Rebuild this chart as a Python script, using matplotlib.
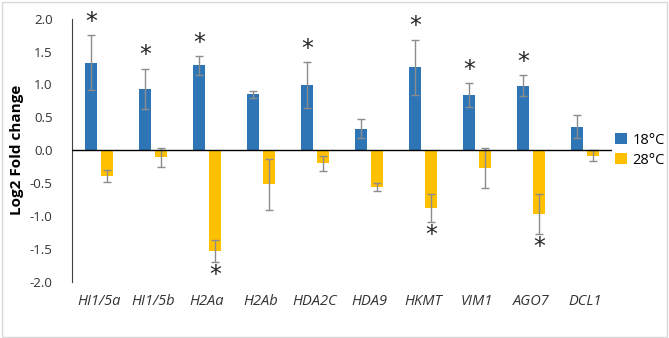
import matplotlib
matplotlib.use("Agg")
import matplotlib.pyplot as plt
import numpy as np

genes = ["HI1/5a", "HI1/5b", "H2Aa", "H2Ab", "HDA2C", "HDA9", "HKMT", "VIM1", "AGO7", "DCL1"]
val_18 = [1.33, 0.93, 1.29, 0.85, 0.99, 0.33, 1.26, 0.84, 0.98, 0.36]
err_18 = [0.42, 0.31, 0.14, 0.05, 0.35, 0.14, 0.42, 0.18, 0.16, 0.18]
val_28 = [-0.39, -0.11, -1.53, -0.52, -0.20, -0.56, -0.88, -0.27, -0.97, -0.08]
err_28 = [0.09, 0.15, 0.17, 0.39, 0.12, 0.06, 0.21, 0.30, 0.30, 0.08]
sig_18 = [True, True, True, False, True, False, True, True, True, False]
sig_28 = [False, False, True, False, False, False, True, False, True, False]

plt.rcParams['font.family'] = ['Open Sans', 'DejaVu Sans']

fig = plt.figure(figsize=(6.69, 3.38), dpi=100)
ax = fig.add_axes([0.1076, 0.166, 0.807, 0.779])

x = np.arange(len(genes))
w = 0.22
off = 0.15
blue = "#2E75B6"
yellow = "#FFC000"
ekw = dict(ecolor="#8c8c8c", elinewidth=1.0, capsize=3, capthick=1.0)

ax.bar(x - off, val_18, w, color=blue, label="18°C", yerr=err_18, error_kw=ekw, zorder=2)
ax.bar(x + off, val_28, w, color=yellow, label="28°C", yerr=err_28, error_kw=ekw, zorder=2)

for i in range(len(genes)):
    if sig_18[i]:
        ax.text(x[i] - off, val_18[i] + err_18[i] + 0.02, "*", ha="center", va="bottom",
                fontsize=17, family="DejaVu Sans", color="#262626")
    if sig_28[i]:
        ax.text(x[i] + off, val_28[i] - err_28[i] - 0.38, "*", ha="center", va="bottom",
                fontsize=17, family="DejaVu Sans", color="#262626")

ax.axhline(0, color="black", lw=1.0, zorder=3)
ax.set_xlim(-0.5, len(genes) - 0.5)
ax.set_ylim(-2, 2)
ax.set_yticks(np.arange(-2, 2.01, 0.5))
ax.set_yticklabels(["%.1f" % v for v in np.arange(-2, 2.01, 0.5)], fontsize=9.5, color="#333333")
ax.set_xticks(x)
ax.set_xticklabels(genes, fontsize=10.5, style="italic", color="#333333")
ax.tick_params(axis="both", length=0)
ax.tick_params(axis="y", pad=14)
ax.tick_params(axis="x", pad=9)
for s in ["top", "right", "bottom"]:
    ax.spines[s].set_visible(False)
ax.spines["left"].set_color("#404040")
ax.set_ylabel("Log2 Fold change", fontsize=11, fontweight="bold", labelpad=4)

ax.legend(loc="center left", bbox_to_anchor=(0.995, 0.5), frameon=False, fontsize=10.5,
          handlelength=0.8, handleheight=0.8, handletextpad=0.4, labelspacing=0.35,
          borderaxespad=0)

fig.patches.append(plt.Rectangle((0.003, 0.004), 0.994, 0.99, transform=fig.transFigure,
                                 fill=False, edgecolor="#d9d9d9", lw=1.0))

fig.savefig("out.png", dpi=100)
